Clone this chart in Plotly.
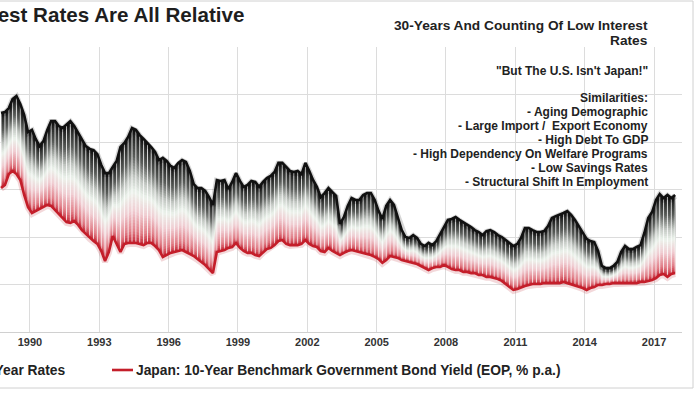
import plotly.graph_objects as go
import pandas as pd
import numpy as np

start_month = "1988-10-01"
us_rates = [9.22, 9.26, 9.43, 9.81, 9.94, 9.60, 9.14, 8.42, 8.51, 8.13, 7.83, 8.04, 8.51, 8.88, 8.88, 8.67,
            8.59, 8.72, 8.88, 8.67, 8.38, 8.13, 7.83, 7.71, 7.66, 7.49, 7.03, 6.69, 6.69, 6.95, 7.20, 7.79,
            7.96, 8.21, 8.59, 8.51, 8.29, 8.13, 7.96, 7.79, 7.58, 7.24, 7.33, 7.20, 6.99, 6.91, 7.12, 7.24,
            7.16, 6.78, 6.23, 6.06, 6.06, 5.94, 5.68, 5.35, 6.40, 6.36, 6.40, 6.02, 6.32, 6.69, 6.36, 6.11,
            6.19, 6.36, 6.32, 6.11, 6.32, 6.48, 6.57, 6.74, 7.12, 7.12, 6.95, 6.78, 6.74, 6.78, 6.65, 7.12,
            6.78, 6.40, 6.11, 5.68, 5.85, 6.06, 5.89, 5.73, 4.55, 4.84, 5.31, 5.64, 5.56, 5.56, 5.77, 5.85,
            5.85, 5.56, 5.09, 4.76, 5.31, 5.56, 5.35, 4.84, 4.29, 4.00, 3.96, 4.08, 3.96, 3.71, 3.62, 3.75,
            3.66, 3.83, 4.13, 4.42, 4.72, 4.76, 4.84, 4.72, 4.63, 4.51, 4.42, 4.29, 4.21, 4.08, 4.25, 4.29,
            4.21, 4.08, 4.00, 3.87, 3.75, 3.62, 3.71, 3.96, 4.38, 4.38, 4.29, 4.21, 4.21, 4.25, 4.46, 4.80,
            4.88, 4.93, 5.01, 5.09, 4.93, 4.72, 4.46, 4.21, 3.92, 3.83, 3.79, 3.41, 2.78, 2.69, 2.69, 2.78,
            2.95, 3.37, 3.62, 3.49, 3.49, 3.58, 3.66, 4.17, 4.80, 5.05, 5.56, 5.81, 5.64, 5.77, 5.64, 5.77]
japan_rates = [6.06, 6.19, 6.65, 6.78, 6.65, 6.40, 5.77, 5.26, 5.01, 5.09, 5.18, 5.26, 5.35, 5.31, 5.14, 4.97,
               4.80, 4.63, 4.59, 4.67, 4.51, 4.29, 4.13, 3.96, 3.83, 3.71, 3.41, 2.99, 3.37, 4.04, 3.71, 3.37,
               3.71, 3.75, 3.75, 3.75, 3.71, 3.66, 3.75, 3.75, 3.62, 3.45, 3.16, 3.24, 3.33, 3.37, 3.41, 3.45,
               3.37, 3.28, 3.20, 3.07, 2.95, 2.82, 2.65, 2.48, 3.37, 3.41, 3.45, 3.54, 3.58, 3.75, 3.54, 3.41,
               3.33, 3.33, 3.24, 3.20, 3.37, 3.49, 3.54, 3.66, 3.83, 3.87, 3.71, 3.66, 3.66, 3.66, 3.71, 3.87,
               3.71, 3.62, 3.58, 3.41, 3.37, 3.54, 3.41, 3.33, 3.24, 3.33, 3.41, 3.45, 3.41, 3.37, 3.33, 3.28,
               3.24, 3.16, 3.07, 2.91, 3.03, 3.20, 3.16, 3.12, 3.03, 2.99, 2.95, 2.91, 2.86, 2.78, 2.69, 2.61,
               2.69, 2.74, 2.74, 2.82, 2.74, 2.65, 2.61, 2.61, 2.53, 2.53, 2.48, 2.48, 2.40, 2.40, 2.32, 2.32,
               2.27, 2.23, 2.15, 2.02, 1.89, 1.77, 1.81, 1.89, 1.94, 1.98, 2.02, 2.02, 2.02, 2.06, 2.06, 2.06,
               2.06, 2.06, 2.11, 2.06, 2.02, 1.94, 1.89, 1.85, 1.77, 1.85, 1.89, 1.98, 1.98, 2.02, 2.02, 2.06,
               2.06, 2.06, 2.06, 2.06, 2.06, 2.06, 2.11, 2.11, 2.15, 2.19, 2.27, 2.40, 2.44, 2.32, 2.44, 2.48]

us_name = "U.S. 10-Year Rates"
jp_name = "Japan: 10-Year Benchmark Government Bond Yield (EOP, % p.a.)"
title_text = "Interest Rates Are All Relative"
note_lines = [
    ("30-Years And Counting Of Low Interest", 26, 13.7),
    ("Rates", 41, 13.7),
    ("\"But The U.S. Isn't Japan!\"", 71, 12),
    ("Similarities:", 98, 12),
    ("- Aging Demographic", 112, 12),
    ("- Large Import /\u00a0 Export Economy", 126, 12),
    ("- High Debt To GDP", 140, 12),
    ("- High Dependency On Welfare Programs", 154, 12),
    ("- Low Savings Rates", 168, 12),
    ("- Structural Shift In Employment", 182, 12),
]

dates = pd.date_range(start_month, periods=len(us_rates), freq="2MS")
us_arr = np.array(us_rates)
jp_arr = np.array(japan_rates)
gap = us_arr - jp_arr

FONT = "Liberation Sans, Arial, sans-serif"
W, H = 700, 394
PL, PR, PT, PB = 0, 682, 47, 332  # plot area pixel box


def px(x):
    return (x - PL) / (PR - PL)


def py(y):
    return (PB - y) / (PB - PT)


stops = [(0.0, (195, 35, 50)), (0.10, (225, 125, 135)), (0.28, (240, 205, 210)),
         (0.45, (236, 243, 236)), (0.58, (195, 200, 195)), (0.76, (90, 93, 90)), (1.0, (15, 15, 15))]


def grad(t):
    for (t0, c0), (t1, c1) in zip(stops[:-1], stops[1:]):
        if t0 <= t <= t1:
            f = (t - t0) / (t1 - t0)
            c = [round(a + (b - a) * f) for a, b in zip(c0, c1)]
            return f"rgb({c[0]},{c[1]},{c[2]})"
    return "rgb(15,15,15)"


fig = go.Figure()
N = 40
xs_poly = list(dates) + list(dates[::-1])
for j in range(N):
    frac = (N - j) / N
    upper = jp_arr + gap * frac
    ys_poly = list(upper) + list(jp_arr[::-1])
    fig.add_trace(go.Scatter(x=xs_poly, y=ys_poly, mode="lines", fill="toself",
                             fillcolor=grad(frac - 0.5 / N), line=dict(width=0),
                             hoverinfo="skip", showlegend=False))

# thin white vertical hairlines (one per observation)
seg_x, seg_y = [], []
for d, lo, hi in zip(dates, jp_arr, us_arr):
    seg_x += [d, d, None]
    seg_y += [lo, hi, None]
fig.add_trace(go.Scatter(x=seg_x, y=seg_y, mode="lines",
                         line=dict(color="rgba(255,255,255,0.8)", width=1),
                         hoverinfo="skip", showlegend=False))

# soft shadow under lines
fig.add_trace(go.Scatter(x=dates, y=us_arr - 0.04, mode="lines", line=dict(color="rgba(0,0,0,0.16)", width=6),
                         hoverinfo="skip", showlegend=False))
fig.add_trace(go.Scatter(x=dates, y=jp_arr - 0.04, mode="lines", line=dict(color="rgba(190,40,50,0.18)", width=6),
                         hoverinfo="skip", showlegend=False))
fig.add_trace(go.Scatter(x=dates, y=us_arr, mode="lines", name=us_name,
                         line=dict(color="#111111", width=2.6), showlegend=False))
fig.add_trace(go.Scatter(x=dates, y=jp_arr, mode="lines", name=jp_name,
                         line=dict(color="#c41e2a", width=2.6), showlegend=False))

ann = []
ann.append(dict(text=f"<b>{title_text}</b>", x=px(246), y=py(14), xref="paper", yref="paper",
                xanchor="right", yanchor="middle", showarrow=False,
                font=dict(family=FONT, size=20.6, color="#1e1e1e")))
for txt, yy, sz in note_lines:
    ann.append(dict(text=f"<b>{txt}</b>", x=px(650), y=py(yy), xref="paper", yref="paper",
                    xanchor="right", yanchor="middle", showarrow=False, align="right",
                    font=dict(family=FONT, size=sz, color="#222222")))
# manual legend
ann.append(dict(text=f"<b>{us_name}</b>", x=px(68), y=py(370), xref="paper", yref="paper",
                xanchor="right", yanchor="middle", showarrow=False,
                font=dict(family=FONT, size=13.8, color="#222222")))
ann.append(dict(text=f"<b>{jp_name}</b>", x=px(134), y=py(370), xref="paper", yref="paper",
                xanchor="left", yanchor="middle", showarrow=False,
                font=dict(family=FONT, size=13.8, color="#222222")))

shapes = [
    dict(type="line", xref="paper", yref="paper", x0=px(112), x1=px(133), y0=py(370), y1=py(370),
         line=dict(color="#c41e2a", width=2.6)),
    dict(type="rect", xref="paper", yref="paper", x0=px(-20), x1=px(693), y0=py(388), y1=py(1),
         line=dict(color="#d0d0d0", width=1)),
]

fig.update_layout(
    width=W, height=H,
    margin=dict(l=PL, r=W - PR, t=PT, b=H - PB),
    paper_bgcolor="white", plot_bgcolor="white",
    showlegend=False,
    annotations=ann, shapes=shapes,
    xaxis=dict(type="date", range=["1988-09-14", "2018-03-19"], tick0="1990-01-01", dtick="M36",
               tickformat="%Y", showgrid=True, gridcolor="#dcdcdc", gridwidth=1,
               showline=True, linecolor="#d0d0d0", ticks="",
               tickfont=dict(family=FONT, size=11, color="#333333", weight="bold")),
    yaxis=dict(range=[0, 12], dtick=2, showgrid=True, gridcolor="#dcdcdc", gridwidth=1,
               showticklabels=False, zeroline=False, ticks=""),
)

fig.write_html("out.html", config={"displayModeBar": False},
               post_script="document.body.style.margin='0';document.body.style.overflow='hidden';")
